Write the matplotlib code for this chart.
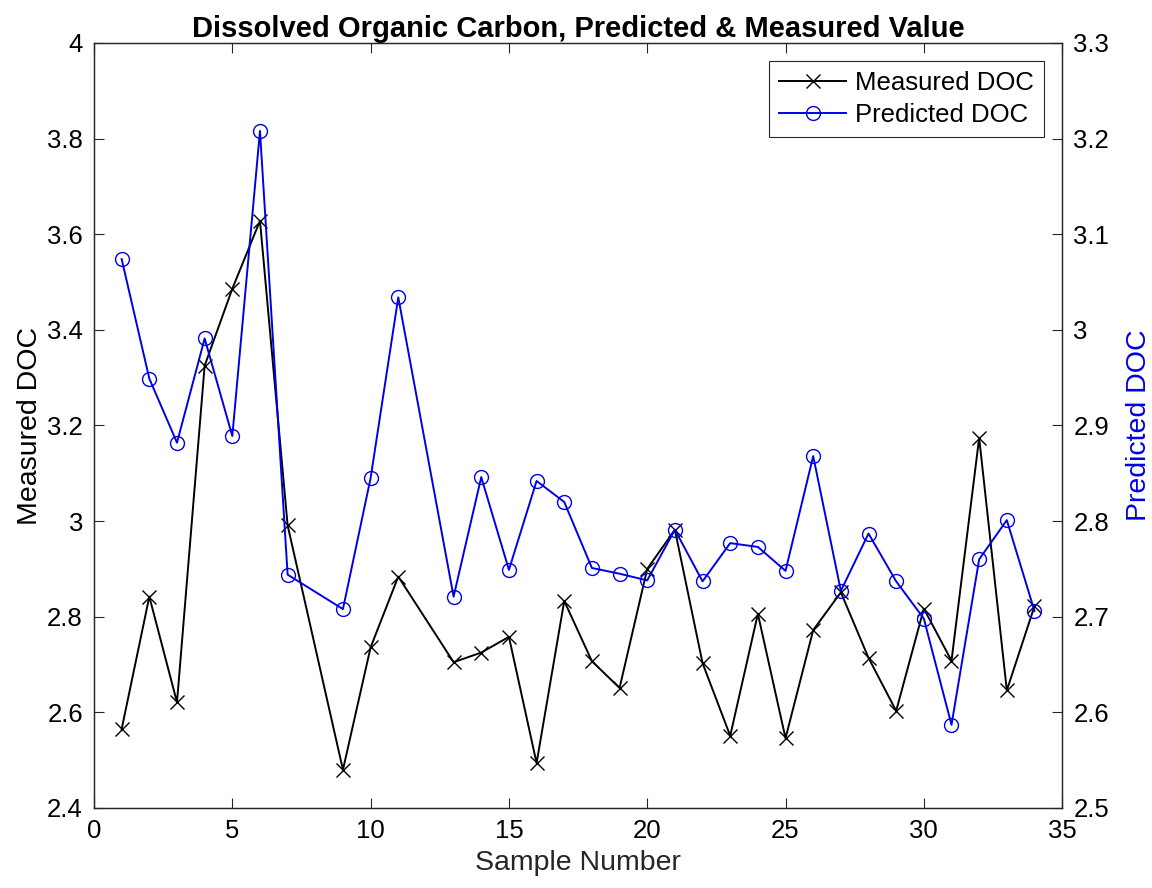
import numpy as np
import matplotlib.pyplot as plt

plt.rcParams['font.family'] = ['Liberation Sans', 'DejaVu Sans']

# sample numbers (8 and 12 are absent)
samples = [1, 2, 3, 4, 5, 6, 7, 9, 10, 11, 13, 14, 15, 16, 17, 18, 19, 20,
           21, 22, 23, 24, 25, 26, 27, 28, 29, 30, 31, 32, 33, 34]

measured = [2.565, 2.842, 2.621, 3.325, 3.486, 3.628, 2.991, 2.480, 2.736, 2.884,
            2.705, 2.725, 2.758, 2.494, 2.833, 2.707, 2.651, 2.900, 2.982, 2.703,
            2.551, 2.806, 2.546, 2.772, 2.851, 2.714, 2.603, 2.817, 2.708, 3.174,
            2.646, 2.822]

predicted = [3.074, 2.949, 2.882, 2.991, 2.889, 3.208, 2.744, 2.708, 2.845, 3.034,
             2.721, 2.846, 2.749, 2.842, 2.820, 2.751, 2.745, 2.738, 2.791, 2.737,
             2.777, 2.773, 2.748, 2.868, 2.727, 2.787, 2.737, 2.698, 2.587, 2.760,
             2.801, 2.706]

fig = plt.figure(figsize=(11.52, 8.88), dpi=100)
ax = fig.add_axes([0.0816, 0.0901, 0.8404, 0.8615])
ax2 = ax.twinx()

l1, = ax.plot(samples, measured, color='black', marker='x', markersize=10,
              linewidth=1.4, label='Measured DOC')
l2, = ax2.plot(samples, predicted, color='#0000e6', marker='o', markersize=10,
               markerfacecolor='none', linewidth=1.4, label='Predicted DOC')

ax.set_xlim(0, 35)
ax.set_ylim(2.4, 4)
ax2.set_ylim(2.5, 3.3)
ax.set_xticks(np.arange(0, 36, 5))
ax.set_yticks(np.arange(2.4, 4.01, 0.2))
ax2.set_yticks(np.arange(2.5, 3.31, 0.1))
ax.set_yticklabels(['2.4', '2.6', '2.8', '3', '3.2', '3.4', '3.6', '3.8', '4'])
ax2.set_yticklabels(['2.5', '2.6', '2.7', '2.8', '2.9', '3', '3.1', '3.2', '3.3'])

ax.tick_params(axis='x', direction='in', length=7, width=0.8, labelsize=18.5,
               pad=8, top=True, colors='#262626', labelcolor='black')
ax.tick_params(axis='y', direction='in', length=7, width=0.8, labelsize=18.5,
               pad=8, colors='#262626', labelcolor='black')
ax2.tick_params(axis='y', direction='in', length=7, width=0.8, labelsize=18.5,
                pad=8, colors='#262626', labelcolor='black')
for a in (ax, ax2):
    for s in a.spines.values():
        s.set_linewidth(0.9)
        s.set_color('#262626')

ax.set_xlabel('Sample Number', fontsize=20.5, color='#262626', labelpad=5)
ax.set_ylabel('Measured DOC', fontsize=20.5, color='black', labelpad=3)
ax2.set_ylabel('Predicted DOC', fontsize=20.5, color='#0000e6', labelpad=12)
ax.set_title('Dissolved Organic Carbon, Predicted & Measured Value',
             fontsize=21, fontweight='bold', pad=3)

leg = ax2.legend(handles=[l1, l2], loc='upper right', fontsize=18.5,
                 fancybox=False, edgecolor='#262626', framealpha=1,
                 handlelength=2.6, borderaxespad=0.7, borderpad=0.4,
                 labelspacing=0.3, handletextpad=0.35)
leg.get_frame().set_linewidth(0.8)

fig.savefig('out.png', dpi=100)
